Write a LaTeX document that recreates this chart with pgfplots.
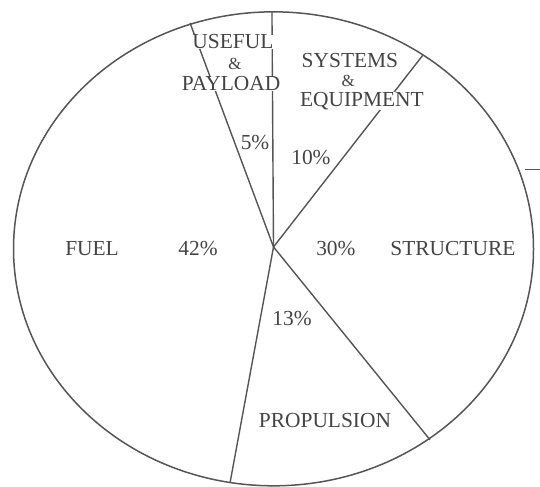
\documentclass[border=0pt]{standalone}
\usepackage{pgfplots}
\pgfplotsset{compat=1.18}
\usepackage{fontspec}
\setmainfont{Liberation Serif}
\definecolor{ink}{HTML}{555555}
\definecolor{txt}{HTML}{444444}
\tikzset{
  lbl/.style={txt, font=\fontsize{21.5}{24}\selectfont, fill=white, inner sep=0pt},
  amp/.style={lbl, font=\fontsize{17}{18}\selectfont},
}
\begin{document}
\begin{tikzpicture}
\begin{axis}[
  scale only axis,
  width=540bp, height=487bp,
  xmin=-1.052, xmax=1.025,
  ymin=-1.013, ymax=1.042,
  hide axis,
]
% outer circle of the pie (slightly squashed like the scan)
\draw[ink, line width=1.5bp] (axis cs:0,-0.008) ellipse [x radius=1, y radius=1];

% slice boundaries: payload 5, systems 10, structure 30, propulsion 13, fuel 42 (%)
\addplot[ink, line width=1.4bp] coordinates {(0,0) (-0.006,0.995)};
\addplot[ink, line width=1.4bp] coordinates {(0,0) (0.575,0.810)};
\addplot[ink, line width=1.4bp] coordinates {(0,0) (0.602,-0.814)};
\addplot[ink, line width=1.4bp] coordinates {(0,0) (-0.167,-0.994)};
\addplot[ink, line width=1.4bp] coordinates {(0,0) (-0.321,0.945)};

% stray scan mark on the right
\addplot[ink, line width=1bp] coordinates {(0.969,0.325) (1.03,0.325)};

\node[lbl] at (axis cs:-0.156,0.866) {USEFUL};
\node[amp] at (axis cs:-0.148,0.774) {\&};
\node[lbl] at (axis cs:-0.163,0.688) {PAYLOAD};
\node[lbl] at (axis cs:0.294,0.785) {SYSTEMS};
\node[amp] at (axis cs:0.287,0.702) {\&};
\node[lbl] at (axis cs:0.340,0.616) {EQUIPMENT};
\node[lbl] at (axis cs:-0.071,0.439) {5\%};
\node[lbl] at (axis cs:0.144,0.376) {10\%};
\node[lbl] at (axis cs:-0.698,-0.008) {FUEL};
\node[lbl] at (axis cs:-0.290,-0.008) {42\%};
\node[lbl] at (axis cs:0.240,-0.008) {30\%};
\node[lbl] at (axis cs:0.690,-0.008) {STRUCTURE};
\node[lbl] at (axis cs:0.071,-0.300) {13\%};
\node[lbl] at (axis cs:0.198,-0.734) {PROPULSION};

\coordinate (sw) at (rel axis cs:0,0);
\coordinate (ne) at (rel axis cs:1,1);
\end{axis}
\pgfresetboundingbox
\path (sw) rectangle (ne);
\end{tikzpicture}
\end{document}
